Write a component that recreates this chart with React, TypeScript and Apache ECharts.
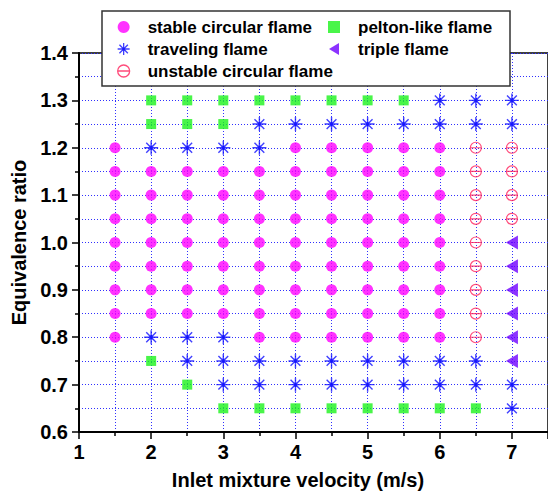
import React, { useEffect, useRef } from 'react';
import * as echarts from 'echarts';

// Inlet mixture velocity (m/s) columns and equivalence-ratio rows of the test matrix
const velocities = [1.5, 2, 2.5, 3, 3.5, 4, 4.5, 5, 5.5, 6, 6.5, 7];
const ratios = [1.3, 1.25, 1.2, 1.15, 1.1, 1.05, 1.0, 0.95, 0.9, 0.85, 0.8, 0.75, 0.7, 0.65];
// S stable circular, T traveling, U unstable circular, P pelton-like, R triple, . no point
const regimeRows = [
  '.PPPPPPPPTTT',
  '.PPPTTTTTTTT',
  'STTTTSSSSSUU',
  'SSSSSSSSSSUU',
  'SSSSSSSSSSUU',
  'SSSSSSSSSSUU',
  'SSSSSSSSSSUR',
  'SSSSSSSSSSUR',
  'SSSSSSSSSSUR',
  'SSSSSSSSSSUR',
  'STTTSSSSSSUR',
  '.PTTTTTTTTTR',
  '..PTTTTTTTTT',
  '...PPPPPPPPT',
];
const regimeCodes = ['S', 'T', 'U', 'P', 'R'];
const regimeNames = [
  'stable circular flame',
  'traveling flame',
  'unstable circular flame',
  'pelton-like flame',
  'triple flame',
];
const xRange = [1, 7.5];
const yRange = [0.6, 1.4];

const STAR =
  'path://M5,0 L5,10 M0,5 L10,5 M1.5,1.5 L8.5,8.5 M8.5,1.5 L1.5,8.5 M6.2,5 A1.2,1.2 0 1,1 3.8,5 A1.2,1.2 0 1,1 6.2,5 Z';
const CIRCLE_BAR = 'path://M0,5 A5,5 0 1,1 10,5 A5,5 0 1,1 0,5 Z M0,5 L10,5';
const LEFT_TRI = 'path://M10,0 L10,12 L0,6 Z';

function pointsFor(code: string): number[][] {
  const pts: number[][] = [];
  regimeRows.forEach((row, ri) => {
    row.split('').forEach((c, ci) => {
      if (c === code) pts.push([velocities[ci], ratios[ri]]);
    });
  });
  return pts;
}

const FONT = '"Liberation Sans", Arial, sans-serif';
const GRID_LINE = { color: '#3030ff', width: 1, type: [1, 2] as number[] };

export default function App() {
  const ref = useRef<HTMLDivElement>(null);
  useEffect(() => {
    if (!ref.current) return;
    const chart = echarts.init(ref.current, undefined, { renderer: 'svg' });
    const styles: Record<string, any> = {
      S: { symbol: 'circle', symbolSize: 11, itemStyle: { color: '#ff00ff' } },
      T: {
        symbol: STAR,
        symbolSize: 14,
        itemStyle: { color: '#1010ff', borderColor: '#1010ff', borderWidth: 1.4 },
      },
      U: {
        symbol: CIRCLE_BAR,
        symbolSize: 11,
        itemStyle: { color: 'rgba(255,255,255,0)', borderColor: '#ff1f5a', borderWidth: 1.2 },
      },
      P: { symbol: 'rect', symbolSize: 10, itemStyle: { color: '#1cf21c' } },
      R: { symbol: LEFT_TRI, symbolSize: [12, 14], itemStyle: { color: '#6f00ff' } },
    };
    const series = regimeCodes.map((code, i) => ({
      type: 'scatter',
      name: regimeNames[i],
      data: pointsFor(code),
      silent: true,
      z: 3,
      ...styles[code],
    }));
    const legendCommon = {
      orient: 'vertical',
      top: 18.5,
      padding: 0,
      itemGap: 5,
      itemWidth: 12,
      itemHeight: 12,
      z: 60,
      selectedMode: false,
      textStyle: {
        fontFamily: FONT,
        fontWeight: 'bold',
        fontSize: 17,
        color: '#000',
        padding: [0, 0, 0, 13],
      },
      itemStyle: { borderWidth: 1.3 },
    };
    chart.setOption({
      animation: false,
      grid: {
        left: 79,
        top: 53,
        width: 471.25,
        height: 381,
        show: true,
        borderColor: '#000',
        borderWidth: 1.5,
        backgroundColor: 'transparent',
      },
      legend: [
        { ...legendCommon, left: 117, data: [regimeNames[0], regimeNames[1], regimeNames[2]] },
        { ...legendCommon, left: 328, data: [regimeNames[3], regimeNames[4]] },
      ],
      graphic: [
        {
          type: 'rect',
          z: 50,
          shape: { x: 102, y: 11, width: 408, height: 75 },
          style: { fill: '#fff', stroke: '#333', lineWidth: 1.5 },
        },
      ],
      xAxis: {
        type: 'value',
        min: xRange[0],
        max: xRange[1],
        interval: 1,
        name: 'Inlet mixture velocity (m/s)',
        nameLocation: 'middle',
        nameGap: 38,
        nameTextStyle: {
          fontFamily: FONT,
          fontWeight: 'bold',
          fontSize: 20,
          color: '#000',
          padding: [0, 31, 0, 0],
        },
        axisLine: { show: true, lineStyle: { color: '#000', width: 2 } },
        axisTick: { show: true, inside: false, length: 7, lineStyle: { color: '#000', width: 1.5 } },
        minorTick: { show: true, splitNumber: 2, length: 4, lineStyle: { color: '#000', width: 1.5 } },
        axisLabel: {
          fontFamily: FONT,
          fontWeight: 'bold',
          fontSize: 20,
          color: '#000',
          margin: 10,
          showMaxLabel: false,
        },
        splitLine: { show: true, lineStyle: GRID_LINE },
        minorSplitLine: { show: true, lineStyle: GRID_LINE },
      },
      yAxis: {
        type: 'value',
        min: yRange[0],
        max: yRange[1],
        interval: 0.1,
        name: 'Equivalence ratio',
        nameLocation: 'middle',
        nameGap: 40,
        nameTextStyle: { fontFamily: FONT, fontWeight: 'bold', fontSize: 20, color: '#000' },
        axisLine: { show: true, lineStyle: { color: '#000', width: 2 } },
        axisTick: { show: true, inside: false, length: 7, lineStyle: { color: '#000', width: 1.5 } },
        minorTick: { show: true, splitNumber: 2, length: 4, lineStyle: { color: '#000', width: 1.5 } },
        axisLabel: {
          fontFamily: FONT,
          fontWeight: 'bold',
          fontSize: 20,
          color: '#000',
          margin: 11,
          formatter: (v: number) => v.toFixed(1),
        },
        splitLine: { show: true, lineStyle: GRID_LINE },
        minorSplitLine: { show: true, lineStyle: GRID_LINE },
      },
      series,
    });
    return () => chart.dispose();
  }, []);
  return (
    <div
      ref={ref}
      style={{ position: 'absolute', left: 0, top: 0, width: 548, height: 495, background: '#fff' }}
    />
  );
}
